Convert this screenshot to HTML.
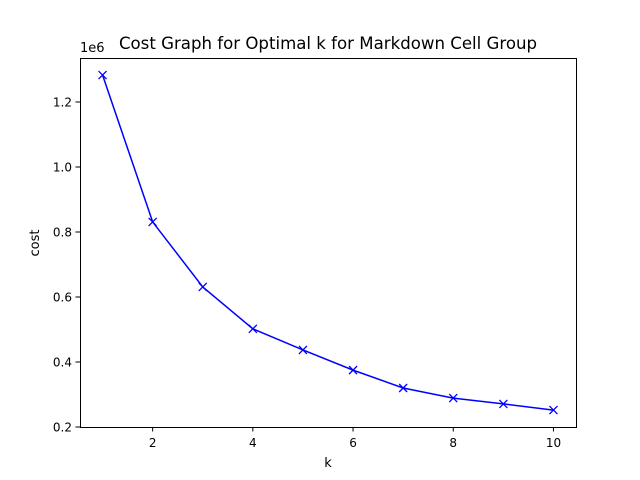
<!DOCTYPE html>
<html><head><meta charset="utf-8"><style>
body{margin:0;background:#fff;}
svg{display:block;font-family:"DejaVu Sans","Liberation Sans",sans-serif;}
</style></head><body>
<svg id="chart" width="640" height="480">
<rect width="640" height="480" fill="#fff"/>
<text x="328" y="49" text-anchor="middle" font-size="16.6">Cost Graph for Optimal k for Markdown Cell Group</text>
<text x="328" y="467" text-anchor="middle" font-size="13">k</text>
<text transform="translate(39,243) rotate(-90)" text-anchor="middle" font-size="13">cost</text>
<text x="80" y="52" font-size="13">1e6</text>
<g id="ticks"></g>
<g id="series"></g>
<rect x="80.5" y="58.5" width="496" height="369" fill="none" stroke="#000" stroke-width="1"/>
</svg>
<script>
const kValues=[1,2,3,4,5,6,7,8,9,10];
const costValues=[1.283,0.831,0.631,0.502,0.437,0.375,0.320,0.289,0.271,0.252];
const xTicks=[2,4,6,8,10];
const yTicks=[0.2,0.4,0.6,0.8,1.0,1.2];
const yTickLabels=["0.2","0.4","0.6","0.8","1.0","1.2"];
const NS="http://www.w3.org/2000/svg";
function xs(v){return 80+(v-0.55)/(10.45-0.55)*496;}
function ys(v){return 427-(v-0.2)/0.2*65;}
function mk(tag,attrs,parent){const e=document.createElementNS(NS,tag);for(const k in attrs)e.setAttribute(k,attrs[k]);parent.appendChild(e);return e;}
const tg=document.getElementById('ticks');
xTicks.forEach(t=>{
  const l=mk('line',{x1:xs(t),x2:xs(t),y1:427,y2:431.5,stroke:'#000'},tg);
  
  
  const tx=mk('text',{x:xs(t),y:447,'text-anchor':'middle','font-size':12},tg);
  tx.textContent=t;
  
  
});
yTicks.forEach((t,i)=>{
  const l=mk('line',{x1:75.5,x2:80,y1:ys(t),y2:ys(t),stroke:'#000'},tg);
  
  
  const tx=mk('text',{x:72,y:ys(t)+4.5,'text-anchor':'end','font-size':12},tg);
  tx.textContent=yTickLabels[i];
  
  
});
const sg=document.getElementById('series');
const pts=kValues.map((k,i)=>xs(k)+','+ys(costValues[i])).join(' ');
const pl=mk('polyline',{points:pts,fill:'none',stroke:'#0000ff','stroke-width':1.5},sg);


kValues.forEach((k,i)=>{
  const x=xs(k),y=ys(costValues[i]),d=4;
  const p=mk('path',{d:`M${x-d},${y-d}L${x+d},${y+d}M${x-d},${y+d}L${x+d},${y-d}`,stroke:'#0000ff','stroke-width':1.3,fill:'none'},sg);
  
  
});
</script>
</body></html>
